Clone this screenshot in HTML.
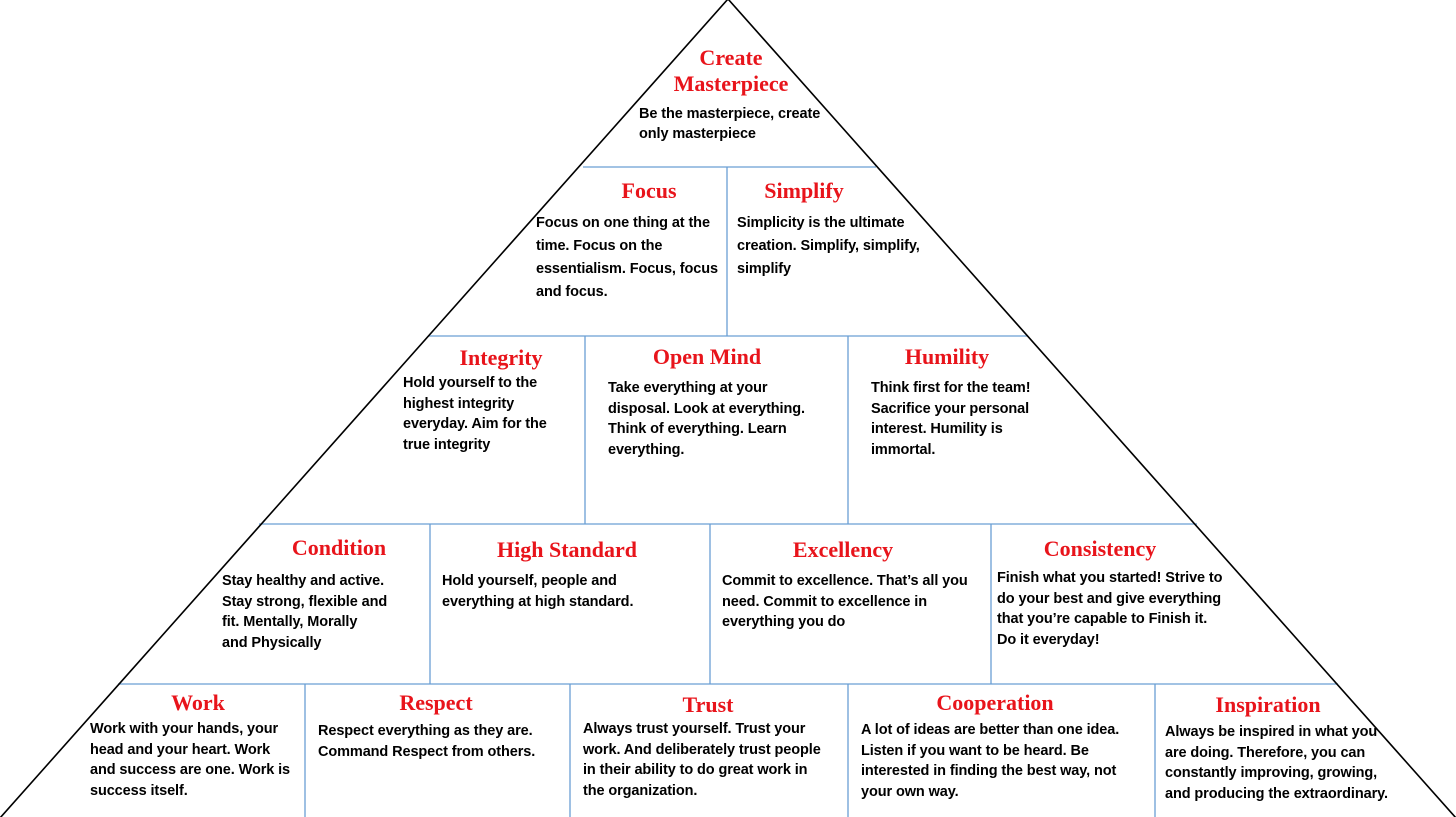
<!DOCTYPE html>
<html><head><meta charset="utf-8"><style>
html,body{margin:0;padding:0;background:#fff}
#c{position:relative;width:1456px;height:817px;overflow:hidden}
svg{position:absolute;left:0;top:0}
.t{position:absolute;font-family:"Liberation Serif",serif;font-weight:bold;color:#e8141b;font-size:22px;line-height:26px;white-space:nowrap;transform:translateX(-50%);text-align:center}
.b{position:absolute;font-family:"Liberation Sans",sans-serif;font-weight:bold;color:#000;font-size:14.5px;line-height:20.5px;white-space:nowrap;letter-spacing:-0.1px}
</style></head><body><div id="c">
<svg width="1456" height="817">
<g stroke="#6a9fd4" stroke-width="1.3">
<line x1="583" y1="167" x2="876" y2="167"/>
<line x1="429" y1="336" x2="1027" y2="336"/>
<line x1="259" y1="524" x2="1197" y2="524"/>
<line x1="118" y1="684" x2="1338" y2="684"/>
<line x1="727" y1="167" x2="727" y2="336"/>
<line x1="585" y1="336" x2="585" y2="524"/>
<line x1="848" y1="336" x2="848" y2="524"/>
<line x1="430" y1="524" x2="430" y2="684"/>
<line x1="710" y1="524" x2="710" y2="684"/>
<line x1="991" y1="524" x2="991" y2="684"/>
<line x1="305" y1="684" x2="305" y2="817"/>
<line x1="570" y1="684" x2="570" y2="817"/>
<line x1="848" y1="684" x2="848" y2="817"/>
<line x1="1155" y1="684" x2="1155" y2="817"/>
</g>
<polyline points="0,818 728,-1 1456,818" fill="none" stroke="#000" stroke-width="1.6"/>
</svg>
<div class="t" style="left:731px;top:45px">Create<br>Masterpiece</div>
<div class="b" style="left:639px;top:104px;line-height:20px">Be the masterpiece, create<br>only masterpiece</div>

<div class="t" style="left:649px;top:178px">Focus</div>
<div class="b" style="left:536px;top:212px;line-height:23px">Focus on one thing at the<br>time. Focus on the<br>essentialism. Focus, focus<br>and focus.</div>
<div class="t" style="left:804px;top:178px">Simplify</div>
<div class="b" style="left:737px;top:212px;line-height:23px">Simplicity is the ultimate<br>creation. Simplify, simplify,<br>simplify</div>

<div class="t" style="left:501px;top:345px">Integrity</div>
<div class="b" style="left:403px;top:373px">Hold yourself to the<br>highest integrity<br>everyday. Aim for the<br>true integrity</div>
<div class="t" style="left:707px;top:344px">Open Mind</div>
<div class="b" style="left:608px;top:378px">Take everything at your<br>disposal. Look at everything.<br>Think of everything. Learn<br>everything.</div>
<div class="t" style="left:947px;top:344px">Humility</div>
<div class="b" style="left:871px;top:378px">Think first for the team!<br>Sacrifice your personal<br>interest. Humility is<br>immortal.</div>

<div class="t" style="left:339px;top:535px">Condition</div>
<div class="b" style="left:222px;top:571px">Stay healthy and active.<br>Stay strong, flexible and<br>fit. Mentally, Morally<br>and Physically</div>
<div class="t" style="left:567px;top:537px">High Standard</div>
<div class="b" style="left:442px;top:571px">Hold yourself, people and<br>everything at high standard.</div>
<div class="t" style="left:843px;top:537px">Excellency</div>
<div class="b" style="left:722px;top:571px">Commit to excellence. That’s all you<br>need. Commit to excellence in<br>everything you do</div>
<div class="t" style="left:1100px;top:536px">Consistency</div>
<div class="b" style="left:997px;top:568px">Finish what you started! Strive to<br>do your best and give everything<br>that you’re capable to Finish it.<br>Do it everyday!</div>

<div class="t" style="left:198px;top:690px">Work</div>
<div class="b" style="left:90px;top:719px">Work with your hands, your<br>head and your heart. Work<br>and success are one. Work is<br>success itself.</div>
<div class="t" style="left:436px;top:690px">Respect</div>
<div class="b" style="left:318px;top:721px">Respect everything as they are.<br>Command Respect from others.</div>
<div class="t" style="left:708px;top:692px">Trust</div>
<div class="b" style="left:583px;top:719px">Always trust yourself. Trust your<br>work. And deliberately trust people<br>in their ability to do great work in<br>the organization.</div>
<div class="t" style="left:995px;top:690px">Cooperation</div>
<div class="b" style="left:861px;top:720px">A lot of ideas are better than one idea.<br>Listen if you want to be heard. Be<br>interested in finding the best way, not<br>your own way.</div>
<div class="t" style="left:1268px;top:692px">Inspiration</div>
<div class="b" style="left:1165px;top:722px">Always be inspired in what you<br>are doing. Therefore, you can<br>constantly improving, growing,<br>and producing the extraordinary.</div>
</div></body></html>
